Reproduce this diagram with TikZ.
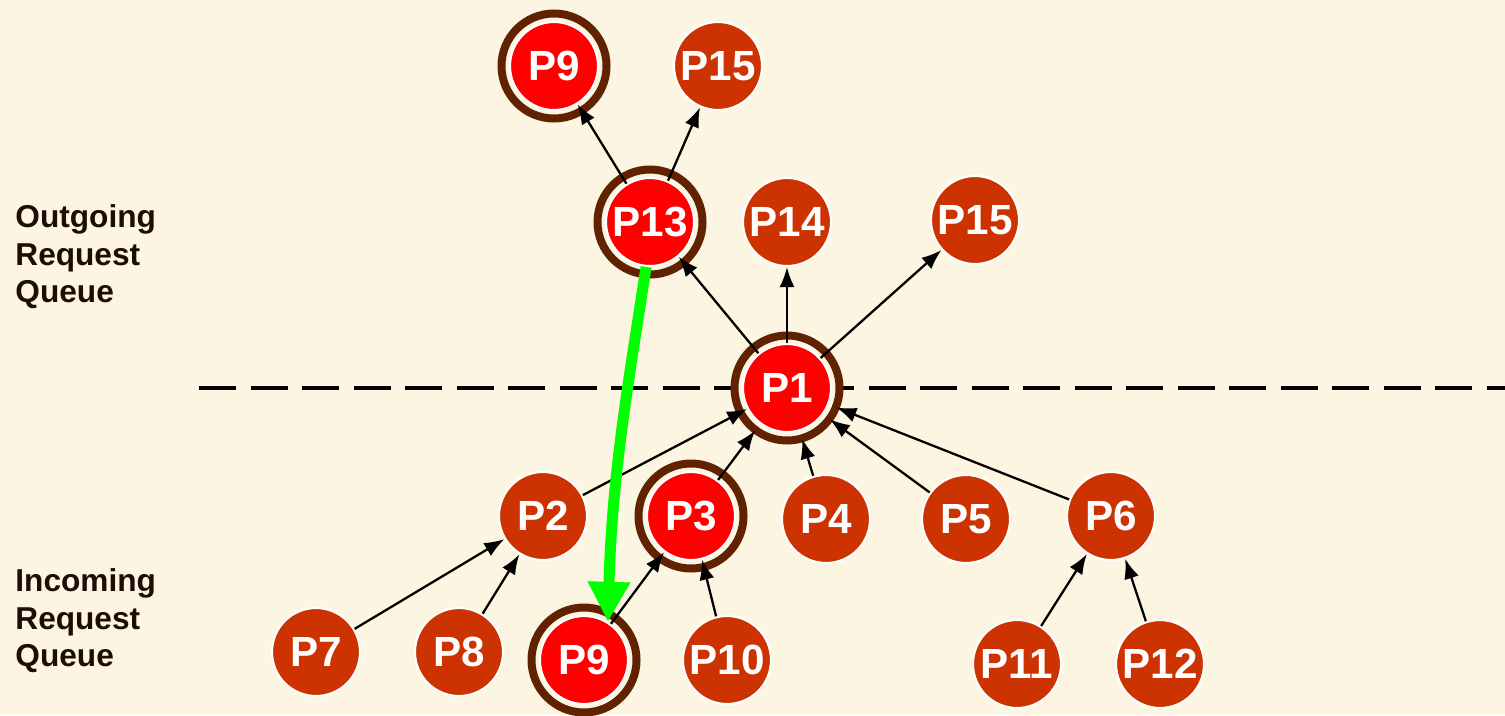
\documentclass[tikz,border=0pt]{standalone}
\usepackage{fontspec}
\setmainfont{Liberation Sans}
\usetikzlibrary{arrows.meta,backgrounds}

\definecolor{cream}{RGB}{252,245,226}
\definecolor{procred}{RGB}{255,0,0}
\definecolor{procorange}{RGB}{204,51,0}
\definecolor{ringbrown}{RGB}{96,34,0}
\definecolor{labeltext}{RGB}{30,12,5}
\definecolor{grantgreen}{RGB}{0,255,0}

\begin{document}
\begin{tikzpicture}[
    proc/.style={circle, minimum size=0.88cm, inner sep=0pt, fill=procorange,
        draw=white, line width=0.6pt, text=white,
        font=\fontsize{12}{14}\selectfont\bfseries},
    hot/.style={proc, fill=procred},
    req/.style={-{Latex[length=0.2cm,width=0.15cm]}, line width=0.65pt},
    toring/.style={req, shorten >=0.08cm},
    ring/.style={draw=ringbrown, line width=0.08cm, fill=cream},
    queue/.style={anchor=west, align=left, text=labeltext,
        font=\fontsize{9}{10.7}\selectfont\bfseries}
]
\useasboundingbox (0,0) rectangle (15.05,7.15);

% queue names
\node[queue] (outq) at (0.03,4.58) {Outgoing\\Request\\Queue};
\node[queue] (inq)  at (0.03,0.94) {Incoming\\Request\\Queue};

% outgoing requests
\node[hot]  (p9a)  at (5.54,6.49) {P9};
\node[proc] (p15a) at (7.18,6.49) {P15};
\node[hot]  (p13)  at (6.50,4.93) {P13};
\node[proc] (p14)  at (7.87,4.93) {P14};
\node[proc] (p15b) at (9.75,4.95) {P15};
\node[hot]  (p1)   at (7.87,3.27) {P1};

% incoming requests
\node[proc] (p2)  at (5.43,1.99) {P2};
\node[hot]  (p3)  at (6.91,1.99) {P3};
\node[proc] (p4)  at (8.26,1.96) {P4};
\node[proc] (p5)  at (9.66,1.96) {P5};
\node[proc] (p6)  at (11.11,1.99) {P6};
\node[proc] (p7)  at (3.16,0.63) {P7};
\node[proc] (p8)  at (4.59,0.63) {P8};
\node[hot]  (p9b) at (5.84,0.55) {P9};
\node[proc] (p10) at (7.27,0.55) {P10};
\node[proc] (p11) at (10.17,0.51) {P11};
\node[proc] (p12) at (11.60,0.51) {P12};

\begin{scope}[on background layer]
    \fill[cream] (0,0) rectangle (15.05,7.15);
    \coordinate (qs) at (1.99,3.27);
    \coordinate (qe) at (15.05,3.27);
    \draw[line width=0.04cm, dash pattern=on 0.37cm off 0.145cm] (qs) -- (qe);
    \foreach \n in {p9a,p13,p1,p3,p9b} {
        \draw[ring] (\n) circle (0.525);
    }
\end{scope}

% who waits for whom
\draw[req] (p13) -- (p9a);
\draw[req] (p13) -- (p15a);
\draw[req] (p1) -- (p13);
\draw[req] (p1) -- (p14);
\draw[req] (p1) -- (p15b);

\draw[req]    (p2) -- (p1);
\foreach \n in {p3,p4,p5,p6} {
    \draw[toring] (\n) -- (p1);
}
\draw[req] (p7) -- (p2);
\draw[req] (p8) -- (p2);
\draw[req] (p9b) -- (p3);
\draw[req] (p10) -- (p3);
\draw[req] (p11) -- (p6);
\draw[req] (p12) -- (p6);

% forwarded request
\draw[grantgreen, line width=0.11cm, -{Triangle[width=0.4cm,length=0.4cm]}]
    (p13.265) .. controls (6.28,3.3) and (6.12,2.4) .. (p9b.58);
\end{tikzpicture}
\end{document}
